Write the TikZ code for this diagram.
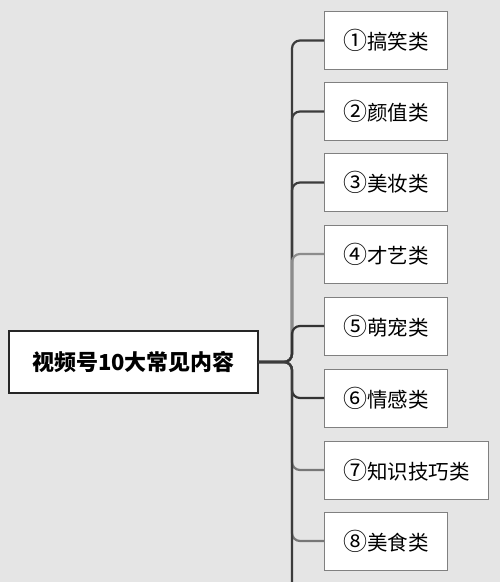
\documentclass[tikz,border=0pt]{standalone}
\usepackage{fontspec}
\newfontfamily\cjk{Noto Sans CJK SC}
\definecolor{linkdark}{HTML}{3C3C3C}
\definecolor{linkmid}{HTML}{777777}
\definecolor{linklight}{HTML}{8C8C8C}
\newcommand{\bignum}[1]{{\fontsize{24}{24}\selectfont #1}}
\begin{document}
\begin{tikzpicture}[
    x=1pt, y=-1pt,
    every node/.style={font=\cjk},
    rootbox/.style={draw=black!85, line width=1.5pt, fill=white,
        minimum width=249pt, minimum height=62pt,
        font=\cjk\bfseries\fontsize{22}{26}\selectfont},
    leafbox/.style={draw=black!50, line width=1pt, fill=white,
        minimum height=58pt, anchor=west,
        font=\cjk\fontsize{20.5}{24}\selectfont},
    branch/.style={line width=2.2pt, rounded corners=8pt},
    ]

    \fill[black!10] (0,0) rectangle (500,582);
    \useasboundingbox (0,0) rectangle (500,582);

    \node[rootbox] (root) at (133.5,362) {视频号10大常见内容};
    \coordinate (fork) at (292,362);
    \coordinate (tail) at (292,582);

    \foreach \i/\y/\num/\txt/\w in {1/40.5/①/搞笑类/123, 2/111.5/②/颜值类/123,
                              3/182.5/③/美妆类/123, 4/254/④/才艺类/123,
                              5/326/⑤/萌宠类/123, 6/398/⑥/情感类/123,
                              7/470/⑦/知识技巧类/164, 8/541/⑧/美食类/123}{
    \node[leafbox, minimum width=\w pt] (leaf\i) at (324,\y) {\bignum{\num}\txt};
    }

    % links, lighter ones first so the trunk shows the right shade
    \foreach \i in {1,2,3}{
    \draw[branch, linkdark] (root.east) -- (fork) |- (leaf\i.west);
    }
    \draw[branch, linklight] (root.east) -- (fork) |- (leaf4.west);
    \foreach \i in {7,8}{
    \draw[branch, linkmid] (root.east) -- (fork) |- (leaf\i.west);
    }
    \foreach \i in {5,6}{
    \draw[branch, black!80] (root.east) -- (fork) |- (leaf\i.west);
    }
    \draw[branch, linkdark] (root.east) -- (fork) -- (tail);

\end{tikzpicture}
\end{document}
